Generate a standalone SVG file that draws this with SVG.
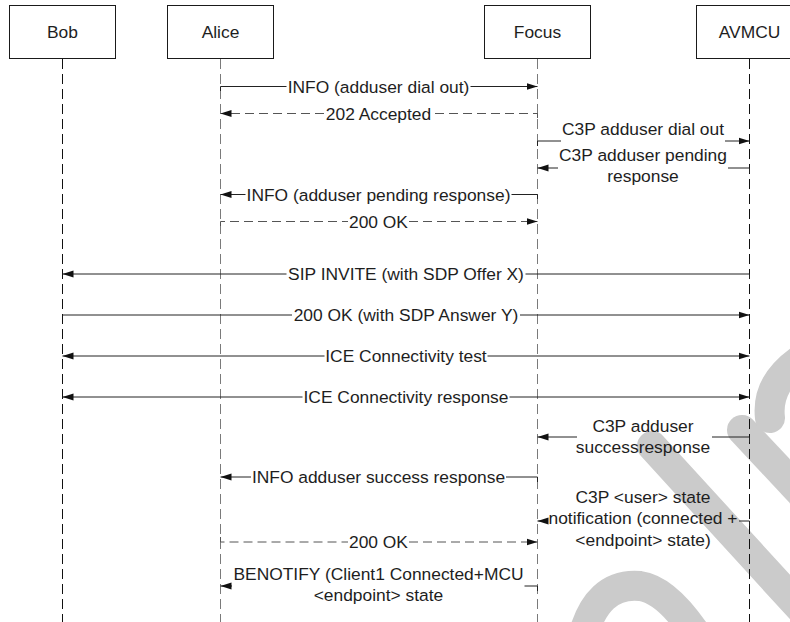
<svg xmlns="http://www.w3.org/2000/svg" width="790" height="622" viewBox="0 0 790 622">
<style>
  text { font-family: "Liberation Sans", Arial, sans-serif; font-size: 17.4px; fill: #1e1e1e; text-anchor: middle; }
  .box { fill: #ffffff; stroke: #1a1a1a; stroke-width: 1; }
  .life-dark { stroke: #111; stroke-width: 1; stroke-dasharray: 10 5; fill: none; }
  .life-grey { stroke: #7a7a7a; stroke-width: 1; stroke-dasharray: 10 5; fill: none; }
  .msg { stroke: #222; stroke-width: 1; fill: none; }
  .dmsg { stroke: #555; stroke-width: 1; stroke-dasharray: 9 5; fill: none; }
  .wm { stroke: #cbcbcb; stroke-width: 30; fill: none; stroke-linecap: round; }
</style>
<defs>
  <marker id="ah" markerUnits="userSpaceOnUse" markerWidth="12" markerHeight="8" refX="11" refY="4" orient="auto-start-reverse">
    <path d="M0,0.5 L11,4 L0,7.5 z" fill="#111" stroke="none"/>
  </marker>
</defs>

<g id="watermark">
  <path class="wm" d="M652,446 L800,608"/>
  <path class="wm" d="M742,430 L800,492"/>
  <path class="wm" d="M770,418 Q766,384 800,360" stroke-linecap="butt"/>
  <path class="wm" d="M582,640 Q596,582 640,586 Q668,590 700,640" stroke-linecap="butt"/>
</g>

<g id="lifelines">
  <path class="life-dark" d="M62.5,59 V622"/>
  <path class="life-grey" d="M220.5,59 V622"/>
  <path class="life-grey" d="M537.5,59 V622"/>
  <path class="life-dark" d="M749.5,59 V622"/>
</g>

<g id="bob"><rect class="box" x="9.5" y="5.5" width="106" height="53"/><text x="62.5" y="38">Bob</text></g>
<g id="alice"><rect class="box" x="167.5" y="5.5" width="106" height="53"/><text x="220.5" y="38">Alice</text></g>
<g id="focus"><rect class="box" x="484.5" y="5.5" width="106" height="53"/><text x="537.5" y="38">Focus</text></g>
<g id="avmcu"><rect class="box" x="696.5" y="5.5" width="106" height="53"/><text x="749.5" y="38">AVMCU</text></g>

<g id="connectors">
  <!-- 1 INFO (adduser dial out) -->
  <path class="msg" d="M220.5,91 V86.5 H286.5"/>
  <path class="msg" d="M470.5,86.5 H537.5" marker-end="url(#ah)"/>
  <text x="378.5" y="92.5">INFO (adduser dial out)</text>
  <!-- 2 202 Accepted -->
  <path class="dmsg" d="M537.5,118 V113.5 H433"/>
  <path class="dmsg" d="M324,113.5 H220.5" marker-end="url(#ah)"/>
  <text x="378.5" y="119.5">202 Accepted</text>
  <!-- 3 C3P adduser dial out -->
  <path class="msg" d="M537.5,146 V141 H561"/>
  <path class="msg" d="M725,141 H749.5" marker-end="url(#ah)"/>
  <text x="643" y="134.5">C3P adduser dial out</text>
  <!-- 4 C3P adduser pending response -->
  <path class="msg" d="M749.5,173 V168 H728"/>
  <path class="msg" d="M558,168 H537.5" marker-end="url(#ah)"/>
  <text x="643" y="161">C3P adduser pending</text>
  <text x="643" y="182">response</text>
  <!-- 5 INFO (adduser pending response) -->
  <path class="msg" d="M537.5,199 V194.5 H511.5"/>
  <path class="msg" d="M245.5,194.5 H220.5" marker-end="url(#ah)"/>
  <text x="378.5" y="200.5">INFO (adduser pending response)</text>
  <!-- 6 200 OK -->
  <path class="dmsg" d="M220.5,226 V221.5 H348"/>
  <path class="dmsg" d="M409,221.5 H537.5" marker-end="url(#ah)"/>
  <text x="378.5" y="227.5">200 OK</text>
  <!-- 7 SIP INVITE -->
  <path class="msg" d="M749.5,279 V274 H525.5"/>
  <path class="msg" d="M286.5,274 H62.5" marker-end="url(#ah)"/>
  <text x="406" y="280">SIP INVITE (with SDP Offer X)</text>
  <!-- 8 200 OK (with SDP Answer Y) -->
  <path class="msg" d="M62.5,315 H292"/>
  <path class="msg" d="M520,315 H749.5" marker-end="url(#ah)"/>
  <text x="406" y="321">200 OK (with SDP Answer Y)</text>
  <!-- 9 ICE Connectivity test -->
  <path class="msg" d="M324.5,356 H62.5" marker-end="url(#ah)"/>
  <path class="msg" d="M487.5,356 H749.5" marker-end="url(#ah)"/>
  <text x="406" y="362">ICE Connectivity test</text>
  <!-- 10 ICE Connectivity response -->
  <path class="msg" d="M302.5,397 H62.5" marker-end="url(#ah)"/>
  <path class="msg" d="M509.5,397 H749.5" marker-end="url(#ah)"/>
  <text x="406" y="403">ICE Connectivity response</text>
  <!-- 11 C3P adduser successresponse -->
  <path class="msg" d="M749.5,442 V437 H712"/>
  <path class="msg" d="M577,437 H537.5" marker-end="url(#ah)"/>
  <text x="643" y="432">C3P adduser</text>
  <text x="643" y="452.5">successresponse</text>
  <!-- 12 INFO adduser success response -->
  <path class="msg" d="M537.5,482 V477 H506"/>
  <path class="msg" d="M251,477 H220.5" marker-end="url(#ah)"/>
  <text x="378.5" y="483">INFO adduser success response</text>
  <!-- 13 C3P <user> state notification -->
  <path class="msg" d="M749.5,526 V521 H739"/>
  <path class="msg" d="M548,521 H537.5" marker-end="url(#ah)"/>
  <text x="643" y="502.5">C3P &lt;user&gt; state</text>
  <text x="643" y="524">notification (connected +</text>
  <text x="643" y="545.5">&lt;endpoint&gt; state)</text>
  <!-- 14 200 OK -->
  <path class="dmsg" d="M220.5,537 V542 H348"/>
  <path class="dmsg" d="M409,542 H537.5" marker-end="url(#ah)"/>
  <text x="378.5" y="548">200 OK</text>
  <!-- 15 BENOTIFY -->
  <path class="msg" d="M537.5,591 V586 H524.5"/>
  <path class="msg" d="M232,586 H220.5" marker-end="url(#ah)"/>
  <text x="378.5" y="580">BENOTIFY (Client1 Connected+MCU</text>
  <text x="378.5" y="600.5">&lt;endpoint&gt; state</text>
</g>
</svg>
